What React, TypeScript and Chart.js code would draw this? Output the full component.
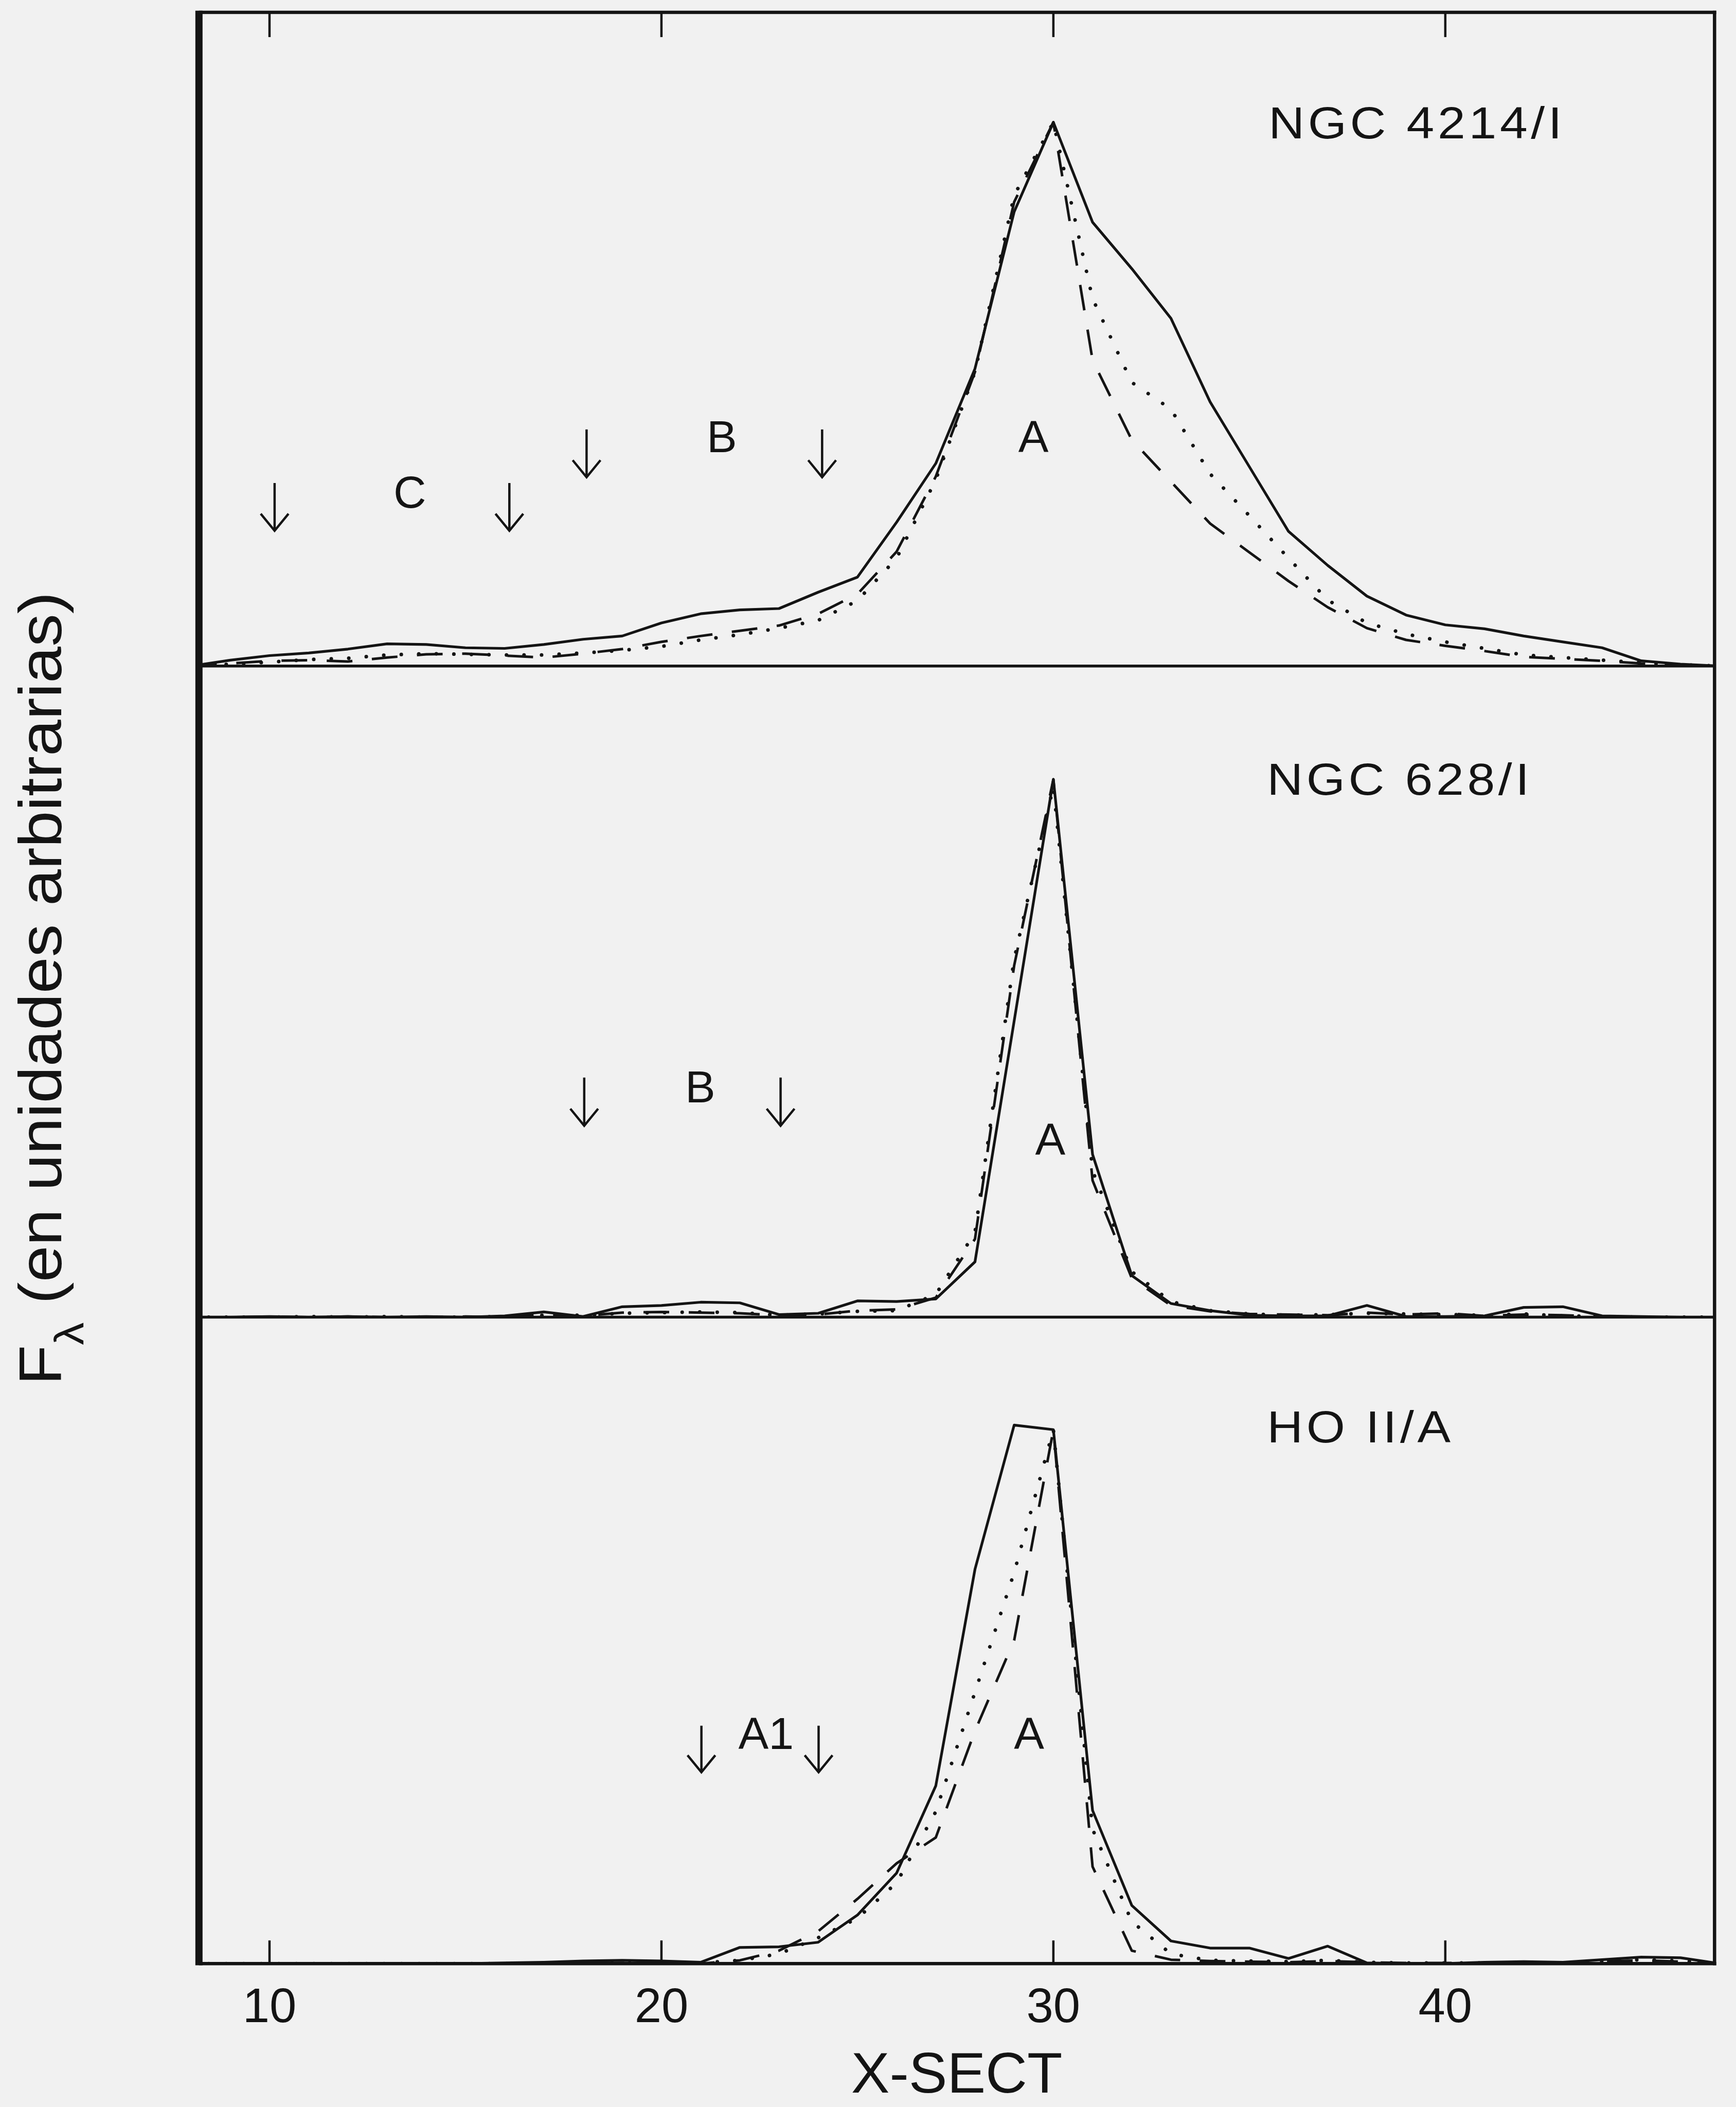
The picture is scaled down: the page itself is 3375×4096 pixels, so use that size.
import React, { useEffect, useRef } from 'react';
import { Chart, registerables } from 'chart.js';

Chart.register(...registerables);

const CANVAS_W = 3375;
const CANVAS_H = 4096;
const INK = '#141414';
const PAPER = '#f1f1f1';
const FONT = '"Liberation Sans", Arial, sans-serif';

// Slit positions along the cross-section (X-SECT)
const xSect = [8, 9, 10, 11, 12, 13, 14, 15, 16, 17, 18, 19, 20, 21, 22, 23, 24, 25, 26, 27,
  28, 29, 30, 31, 32, 33, 34, 35, 36, 37, 38, 39, 40, 41, 42, 43, 44, 45, 46, 47];

// NGC 4214/I profiles (percent of panel height)
const ngc4214Solid = [0.0, 0.9, 1.6, 2.0, 2.6, 3.4, 3.3, 2.8, 2.7, 3.3, 4.1, 4.6, 6.6, 8.0, 8.6, 8.8, 11.3, 13.6, 22.0, 31.0,
  45.5, 69.5, 83.2, 67.9, 60.8, 53.2, 40.4, 30.5, 20.6, 15.4, 10.7, 7.8, 6.3, 5.7, 4.6, 3.7, 2.8, 0.8, 0.3, 0.0];
const ngc4214Dotted = [0.0, 0.3, 0.6, 1.0, 1.2, 1.7, 1.9, 1.8, 1.7, 1.7, 2.0, 2.4, 3.0, 4.0, 4.8, 5.8, 7.0, 10.0, 16.5, 28.5,
  45.0, 72.0, 83.2, 56.2, 43.4, 39.3, 29.4, 23.0, 16.5, 10.1, 6.6, 4.9, 3.7, 2.7, 1.7, 1.3, 0.9, 0.5, 0.2, 0.0];
const ngc4214Dashed = [0.0, 0.4, 0.8, 0.9, 0.7, 1.3, 1.8, 1.9, 1.6, 1.3, 1.9, 2.6, 3.7, 4.6, 5.4, 6.2, 8.0, 11.0, 17.5, 29.0,
  45.0, 71.0, 83.2, 46.8, 34.6, 28.2, 21.8, 17.4, 13.0, 9.0, 5.8, 4.0, 3.1, 2.3, 1.4, 1.1, 0.8, 0.4, 0.2, 0.0];

// NGC 628/I profiles
const ngc628Solid = [0.0, 0.0, 0.1, 0.0, 0.1, 0.0, 0.1, 0.0, 0.2, 0.8, 0.1, 1.6, 1.8, 2.3, 2.2, 0.4, 0.6, 2.5, 2.4, 2.8,
  8.5, 45.5, 82.6, 25.0, 6.4, 2.1, 1.0, 0.3, 0.2, 0.2, 1.8, 0.1, 0.1, 0.2, 1.5, 1.6, 0.2, 0.1, 0.0, 0.0];
const ngc628Dotted = [0.0, 0.0, 0.0, 0.1, 0.0, 0.1, 0.0, 0.0, 0.1, 0.3, 0.3, 0.6, 0.7, 0.8, 0.7, 0.3, 0.5, 0.9, 1.0, 3.5,
  13.0, 55.0, 81.5, 22.5, 7.0, 2.4, 1.0, 0.5, 0.3, 0.4, 0.6, 0.5, 0.4, 0.3, 0.5, 0.2, 0.1, 0.0, 0.0, 0.0];
const ngc628Dashed = [0.0, 0.0, 0.1, 0.0, 0.1, 0.0, 0.0, 0.1, 0.0, 0.4, 0.2, 0.7, 0.8, 0.7, 0.6, 0.3, 0.4, 1.0, 1.2, 3.0,
  12.0, 54.0, 82.6, 21.0, 6.0, 1.8, 0.9, 0.5, 0.4, 0.3, 0.7, 0.4, 0.6, 0.2, 0.4, 0.3, 0.1, 0.0, 0.0, 0.0];

// HO II/A profiles
const ho2Solid = [0.0, 0.0, 0.0, 0.0, 0.0, 0.0, 0.0, 0.0, 0.1, 0.2, 0.4, 0.5, 0.4, 0.2, 2.5, 2.6, 3.3, 7.5, 14.0, 27.5,
  61.0, 83.3, 82.6, 23.7, 9.0, 3.5, 2.4, 2.4, 0.8, 2.7, 0.1, 0.0, 0.0, 0.2, 0.3, 0.2, 0.6, 1.0, 0.9, 0.0];
const ho2Dotted = [0.0, 0.0, 0.0, 0.0, 0.0, 0.0, 0.0, 0.0, 0.0, 0.1, 0.1, 0.1, 0.1, 0.1, 0.5, 1.5, 4.0, 7.0, 12.5, 23.5,
  42.0, 60.5, 82.6, 20.8, 6.5, 1.5, 0.5, 0.4, 0.3, 0.5, 0.2, 0.1, 0.1, 0.1, 0.1, 0.1, 0.4, 0.6, 0.4, 0.0];
const ho2Dashed = [0.0, 0.0, 0.0, 0.0, 0.0, 0.0, 0.0, 0.0, 0.0, 0.1, 0.1, 0.1, 0.1, 0.0, 0.5, 2.0, 5.0, 10.0, 15.5, 19.5,
  36.0, 50.0, 82.6, 15.0, 2.0, 0.6, 0.4, 0.3, 0.2, 0.4, 0.2, 0.1, 0.1, 0.1, 0.1, 0.1, 0.3, 0.5, 0.3, 0.0];

const xTicks = [10, 20, 30, 40];
const X_MIN = 8.2;
const X_MAX = 46.87;

const xTitle = 'X-SECT';
const yTitleMain = 'F';
const yTitleSub = 'λ';
const yTitleRest = ' (en unidades arbitrarias)';

// Object names, placed in data units of each panel (left edge, baseline)
const panelTitles = [
  { axis: 'yTop', text: 'NGC 4214/I', x: 35.49, y: 80.7 },
  { axis: 'yMid', text: 'NGC 628/I', x: 35.45, y: 80.2 },
  { axis: 'yBot', text: 'HO II/A', x: 35.45, y: 80.6 },
];

// Region names (centred on x, baseline at y)
const regionLabels = [
  { axis: 'yTop', text: 'C', x: 13.58, y: 24.2 },
  { axis: 'yTop', text: 'B', x: 21.54, y: 32.7 },
  { axis: 'yTop', text: 'A', x: 29.49, y: 32.7 },
  { axis: 'yMid', text: 'B', x: 20.99, y: 33.0 },
  { axis: 'yMid', text: 'A', x: 29.92, y: 24.9 },
  { axis: 'yBot', text: 'A1', x: 22.67, y: 33.2 },
  { axis: 'yBot', text: 'A', x: 29.38, y: 33.2 },
];

// Region limits, drawn as downward arrows
const regionArrows = [
  { axis: 'yTop', x: 10.13, from: 28.0, to: 20.7 },
  { axis: 'yTop', x: 16.12, from: 28.0, to: 20.7 },
  { axis: 'yTop', x: 18.09, from: 36.2, to: 28.9 },
  { axis: 'yTop', x: 24.1, from: 36.2, to: 28.9 },
  { axis: 'yMid', x: 18.03, from: 36.8, to: 29.4 },
  { axis: 'yMid', x: 23.04, from: 36.8, to: 29.4 },
  { axis: 'yBot', x: 21.02, from: 36.8, to: 29.6 },
  { axis: 'yBot', x: 24.01, from: 36.8, to: 29.6 },
];

const lineStyles: Record<string, any> = {
  solid: { borderDash: [], borderWidth: 5.2, borderCapStyle: 'butt' },
  dotted: { borderDash: [0.1, 34], borderWidth: 7, borderCapStyle: 'round' },
  dashed: { borderDash: [50, 38], borderWidth: 5, borderCapStyle: 'butt' },
};

const panels = [
  { axis: 'yTop', weight: 3, stackWeight: 1531, series: { solid: ngc4214Solid, dotted: ngc4214Dotted, dashed: ngc4214Dashed } },
  { axis: 'yMid', weight: 2, stackWeight: 1525, series: { solid: ngc628Solid, dotted: ngc628Dotted, dashed: ngc628Dashed } },
  { axis: 'yBot', weight: 1, stackWeight: 1514, series: { solid: ho2Solid, dotted: ho2Dotted, dashed: ho2Dashed } },
];

function buildDatasets() {
  const out: any[] = [];
  panels.forEach((p) => {
    Object.entries(p.series).forEach(([style, values]) => {
      out.push({
        label: `${p.axis}-${style}`,
        yAxisID: p.axis,
        data: xSect.map((x, i) => ({ x, y: (values as number[])[i] })),
        borderColor: INK,
        backgroundColor: INK,
        pointRadius: 0,
        tension: 0,
        fill: false,
        borderJoinStyle: 'round',
        ...lineStyles[style],
      });
    });
  });
  return out;
}

const paperPlugin = {
  id: 'paper',
  beforeDraw(chart: any) {
    const { ctx, width, height } = chart;
    ctx.save();
    ctx.fillStyle = PAPER;
    ctx.fillRect(0, 0, width, height);
    ctx.restore();
  },
};

const framePlugin = {
  id: 'frame',
  afterDatasetsDraw(chart: any) {
    const { ctx, chartArea: a, scales } = chart;
    const line = (x0: number, y0: number, x1: number, y1: number) => {
      ctx.beginPath();
      ctx.moveTo(x0, y0);
      ctx.lineTo(x1, y1);
      ctx.stroke();
    };
    ctx.save();
    ctx.strokeStyle = INK;
    ctx.lineCap = 'butt';
    ctx.lineWidth = 6.5;
    line(a.left, a.top, a.right + 3.25, a.top);
    line(a.left, a.bottom, a.right + 3.25, a.bottom);
    line(a.right, a.top - 3.25, a.right, a.bottom + 3.25);
    ctx.lineWidth = 5.5;
    line(a.left, scales.yTop.bottom, a.right, scales.yTop.bottom);
    line(a.left, scales.yMid.bottom, a.right, scales.yMid.bottom);
    ctx.lineWidth = 14;
    line(a.left, a.top - 3.25, a.left, a.bottom + 3.25);
    ctx.lineWidth = 4.5;
    xTicks.forEach((v) => {
      const px = scales.x.getPixelForValue(v);
      line(px, a.bottom, px, a.bottom - 45);
      line(px, a.top, px, a.top + 48);
    });
    ctx.restore();
  },
};

const textPlugin = {
  id: 'annotations',
  afterDraw(chart: any) {
    const { ctx, scales } = chart;
    const sx = scales.x;
    ctx.save();
    ctx.fillStyle = INK;
    ctx.strokeStyle = INK;

    // object names: slightly widened glyphs with open spacing
    ctx.font = `88px ${FONT}`;
    ctx.textAlign = 'left';
    ctx.textBaseline = 'alphabetic';
    (ctx as any).letterSpacing = '6px';
    panelTitles.forEach((t) => {
      const px = sx.getPixelForValue(t.x);
      const py = scales[t.axis].getPixelForValue(t.y);
      ctx.save();
      ctx.translate(px, py);
      ctx.scale(1.1, 1);
      ctx.fillText(t.text, 0, 0);
      ctx.restore();
    });
    (ctx as any).letterSpacing = '0px';

    // region names
    ctx.textAlign = 'center';
    regionLabels.forEach((t) => {
      ctx.fillText(t.text, sx.getPixelForValue(t.x), scales[t.axis].getPixelForValue(t.y));
    });

    // region arrows
    ctx.lineWidth = 4.5;
    ctx.lineJoin = 'miter';
    ctx.lineCap = 'butt';
    regionArrows.forEach((r) => {
      const x = sx.getPixelForValue(r.x);
      const y0 = scales[r.axis].getPixelForValue(r.from);
      const y1 = scales[r.axis].getPixelForValue(r.to);
      ctx.beginPath();
      ctx.moveTo(x, y0);
      ctx.lineTo(x, y1);
      ctx.stroke();
      ctx.beginPath();
      ctx.moveTo(x - 27, y1 - 33);
      ctx.lineTo(x, y1);
      ctx.lineTo(x + 27, y1 - 33);
      ctx.stroke();
    });

    // rotated y-axis title with subscript lambda
    const a = chart.chartArea;
    const mainFont = `116px ${FONT}`;
    const subFont = `80px ${FONT}`;
    ctx.font = mainFont;
    const wF = ctx.measureText(yTitleMain).width;
    const wRest = ctx.measureText(yTitleRest).width;
    ctx.font = subFont;
    const wL = ctx.measureText(yTitleSub).width;
    const natural = wF + wL + wRest;
    const target = 1542;
    const cy = (a.top + a.bottom) / 2 + 1;
    ctx.translate(119, cy);
    ctx.rotate(-Math.PI / 2);
    ctx.scale(target / natural, 1);
    ctx.textAlign = 'left';
    const x0 = -natural / 2;
    ctx.font = mainFont;
    ctx.fillText(yTitleMain, x0, 0);
    ctx.font = subFont;
    ctx.fillText(yTitleSub, x0 + wF, 43);
    ctx.font = mainFont;
    ctx.fillText(yTitleRest, x0 + wF + wL, 0);
    ctx.restore();
  },
};

function buildConfig(): any {
  const yScales: Record<string, any> = {};
  panels.forEach((p) => {
    yScales[p.axis] = {
      type: 'linear',
      position: 'left',
      stack: 'panels',
      stackWeight: p.stackWeight,
      weight: p.weight,
      min: 0,
      max: 100,
      display: false,
    };
  });
  return {
    type: 'line',
    data: { datasets: buildDatasets() },
    options: {
      responsive: false,
      maintainAspectRatio: false,
      devicePixelRatio: 1,
      animation: false,
      events: [],
      layout: { padding: { left: 386.8, right: 41.7, top: 24.1, bottom: 0 } },
      plugins: { legend: { display: false }, tooltip: { enabled: false }, title: { display: false } },
      scales: {
        x: {
          type: 'linear',
          position: 'bottom',
          min: X_MIN,
          max: X_MAX,
          grid: { display: false, drawTicks: false },
          border: { display: false },
          ticks: {
            stepSize: 10,
            includeBounds: false,
            autoSkip: false,
            maxRotation: 0,
            padding: 31,
            color: INK,
            font: { family: FONT, size: 94 },
          },
          title: {
            display: true,
            text: xTitle,
            color: INK,
            font: { family: FONT, size: 112, lineHeight: 1 },
            padding: { top: 0, bottom: 3 },
          },
          afterFit: (scale: any) => {
            scale.height = 278.8;
          },
        },
        ...yScales,
      },
    },
    plugins: [paperPlugin, framePlugin, textPlugin],
  };
}

export default function App() {
  const canvasRef = useRef<HTMLCanvasElement | null>(null);
  useEffect(() => {
    document.body.style.margin = '0';
    const canvas = canvasRef.current;
    if (!canvas) return;
    const chart = new Chart(canvas, buildConfig());
    return () => chart.destroy();
  }, []);
  return (
    <canvas
      ref={canvasRef}
      width={CANVAS_W}
      height={CANVAS_H}
      style={{ display: 'block', width: CANVAS_W, height: CANVAS_H }}
    />
  );
}
